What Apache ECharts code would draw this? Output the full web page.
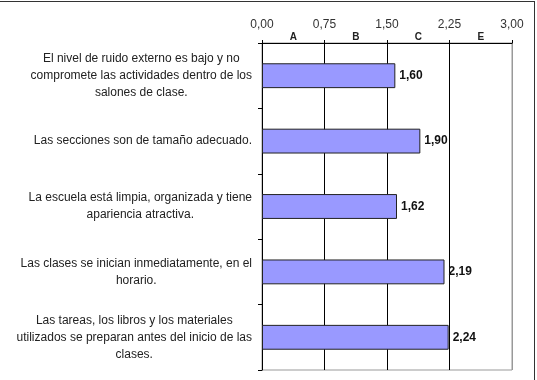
<!DOCTYPE html>
<html>
<head>
<meta charset="utf-8">
<script src="https://cdn.jsdelivr.net/npm/echarts@6/dist/echarts.min.js"></script>
<style>
    html, body { margin: 0; padding: 0; background: #fff; }
    #wrap { position: relative; width: 537px; height: 380px; overflow: hidden; }
    #frame { position: absolute; left: -2px; top: 1px; width: 537px; height: 400px; border: 1px solid #333; box-sizing: border-box; }
    #echarts { position: absolute; left: 0; top: 0; width: 537px; height: 380px; }
</style>
</head>
<body>
<div id="wrap">
    <div id="frame"></div>
    <div id="echarts"></div>
</div>
<script>
    // categorias (de arriba hacia abajo)
    var categories = [
        'El nivel de ruido externo es bajo y no\ncompromete las actividades dentro de los\nsalones de clase.',
        'Las secciones son de tamaño adecuado.',
        'La escuela está limpia, organizada y tiene\napariencia atractiva.',
        'Las clases se inician inmediatamente, en el\nhorario.',
        'Las tareas, los libros y los materiales\nutilizados se preparan antes del inicio de las\nclases.'
    ];
    var values = [1.60, 1.90, 1.62, 2.19, 2.24];
    // letras entre las marcas del eje superior
    var bandLetters = ['A', 'B', 'C', 'E'];

    function fmtNum(v) {
        return Number(v).toFixed(2).replace('.', ',');
    }

    var fontFam = '"Liberation Sans", Arial, sans-serif';
    var myChart = echarts.init(document.getElementById('echarts'), null, {renderer: 'canvas'});

    var option = {
        backgroundColor: 'transparent',
        animation: false,
        grid: {
            left: 262,
            right: 25,
            top: 43,
            bottom: 10,
            show: true,
            borderColor: '#999',
            borderWidth: 1
        },
        xAxis: [
            {
                type: 'value',
                position: 'top',
                min: 0,
                max: 3,
                interval: 0.75,
                axisLine: {show: true, lineStyle: {color: '#000', width: 1}},
                axisTick: {show: true, length: 3, lineStyle: {color: '#000'}},
                axisLabel: {
                    margin: 12,
                    fontSize: 12,
                    color: '#333',
                    fontFamily: fontFam,
                    formatter: function (v) { return fmtNum(v); }
                },
                splitLine: {
                    show: true,
                    lineStyle: {color: ['#000', '#000', '#000', '#000', '#999'], width: 1}
                }
            },
            {
                type: 'value',
                position: 'top',
                min: 0,
                max: 3,
                interval: 0.375,
                axisLine: {show: false},
                axisTick: {show: false},
                splitLine: {show: false},
                axisLabel: {
                    margin: 1,
                    fontSize: 10,
                    fontWeight: 'bold',
                    color: '#222',
                    fontFamily: fontFam,
                    formatter: function (v) {
                        var idx = Math.round(v / 0.375);
                        if (idx % 2 === 1) {
                            return bandLetters[(idx - 1) / 2] || '';
                        }
                        return '';
                    }
                }
            }
        ],
        yAxis: {
            type: 'category',
            inverse: true,
            data: categories,
            axisLine: {show: true, lineStyle: {color: '#000', width: 1}},
            axisTick: {show: true, length: 4, lineStyle: {color: '#000'}},
            axisLabel: {
                margin: 10,
                align: 'right',
                formatter: function (v) {
                    return v.split('\n').map(function (l) { return '{c|' + l + '}'; }).join('\n');
                },
                rich: {
                    c: {
                        align: 'center',
                        fontSize: 12,
                        lineHeight: 17,
                        color: '#222',
                        fontFamily: fontFam
                    }
                }
            },
            splitLine: {show: false}
        },
        series: [
            {
                type: 'bar',
                xAxisIndex: 0,
                data: values,
                barWidth: '38%',
                itemStyle: {
                    color: '#9999FF',
                    borderColor: '#222',
                    borderWidth: 1
                },
                label: {
                    show: true,
                    position: 'right',
                    distance: 4,
                    fontSize: 12,
                    fontWeight: 'bold',
                    color: '#111',
                    fontFamily: fontFam,
                    formatter: function (p) { return fmtNum(p.value); }
                }
            }
        ]
    };
    myChart.setOption(option);
</script>
</body>
</html>
